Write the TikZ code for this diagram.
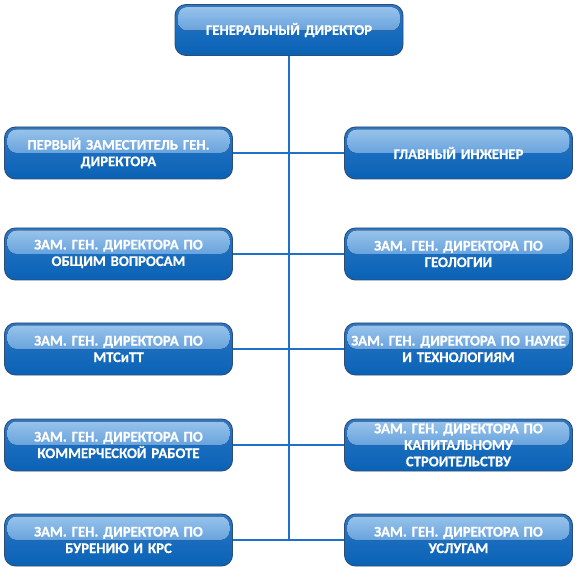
\documentclass[tikz,border=0pt]{standalone}
\usepackage{fontspec}
\setmainfont{Carlito}[BoldFont={Carlito Bold},BoldFeatures={FakeBold=0.6}]
\usetikzlibrary{shadings}
\definecolor{boxtop}{HTML}{2A78C8}
\definecolor{boxbot}{HTML}{0A62B4}
\definecolor{boxborder}{HTML}{2E4C74}
\definecolor{hltop}{HTML}{9CC6EC}
\definecolor{hlbot}{HTML}{3580CE}
\definecolor{linkcol}{HTML}{1F70C8}
\tikzset{
  orgbox/.style={rounded corners=11pt, draw=boxborder, line width=0.9pt,
    top color=boxtop, bottom color=boxbot,
    minimum width=228pt, minimum height=52pt, inner sep=1pt,
    text width=226pt, align=center, text=white,
    font=\bfseries\fontsize{14.7}{16.5}\selectfont,
    path picture={
      \fill[rounded corners=9pt, top color=hltop, bottom color=hlbot]
        ([xshift=3pt,yshift=-2.5pt]path picture bounding box.north west) rectangle
        ([xshift=-3pt,yshift=-26pt]path picture bounding box.north east);
    }},
  link/.style={draw=linkcol, line width=1.5pt}
}
\begin{document}
\begin{tikzpicture}[x=1pt,y=1pt]
\useasboundingbox (0,0) rectangle (581,-577);
\coordinate (trunkend) at (289,-541);
\node[orgbox, minimum height=51pt] (gd) at (289,-30) {ГЕНЕРАЛЬНЫЙ ДИРЕКТОР};
\draw[link] (gd.south) -- (trunkend);
\node[orgbox] (l1) at (118.5,-153) {ПЕРВЫЙ ЗАМЕСТИТЕЛЬ ГЕН.\\ДИРЕКТОРА};
\node[orgbox] (r1) at (458.5,-153) {ГЛАВНЫЙ ИНЖЕНЕР};
\node[orgbox] (l2) at (118.5,-254) {ЗАМ. ГЕН. ДИРЕКТОРА ПО\\ОБЩИМ ВОПРОСАМ};
\node[orgbox] (r2) at (458.5,-254) {ЗАМ. ГЕН. ДИРЕКТОРА ПО\\ГЕОЛОГИИ};
\node[orgbox] (l3) at (118.5,-349) {ЗАМ. ГЕН. ДИРЕКТОРА ПО\\МТСиТТ};
\node[orgbox] (r3) at (458.5,-349) {ЗАМ. ГЕН. ДИРЕКТОРА ПО НАУКЕ\\И ТЕХНОЛОГИЯМ};
\node[orgbox] (l4) at (118.5,-445) {ЗАМ. ГЕН. ДИРЕКТОРА ПО\\КОММЕРЧЕСКОЙ РАБОТЕ};
\node[orgbox] (r4) at (458.5,-445) {ЗАМ. ГЕН. ДИРЕКТОРА ПО\\КАПИТАЛЬНОМУ\\СТРОИТЕЛЬСТВУ};
\node[orgbox] (l5) at (118.5,-540) {ЗАМ. ГЕН. ДИРЕКТОРА ПО\\БУРЕНИЮ И КРС};
\node[orgbox] (r5) at (458.5,-540) {ЗАМ. ГЕН. ДИРЕКТОРА ПО\\УСЛУГАМ};
\foreach \i in {1,...,5} {\draw[link] (l\i.east) -- (r\i.west);}
\end{tikzpicture}
\end{document}
